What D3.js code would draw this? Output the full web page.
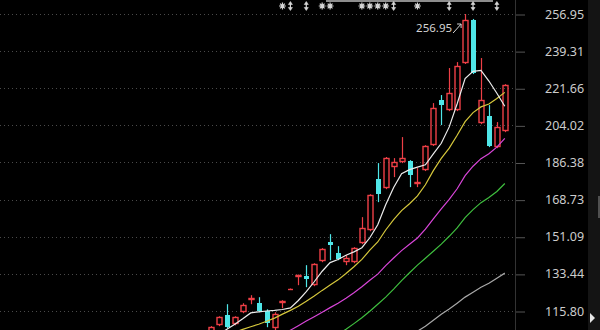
<!DOCTYPE html>
<html><head><meta charset="utf-8">
<script src="https://cdn.jsdelivr.net/npm/d3@7"></script>
<style>html,body{margin:0;padding:0;background:#000;overflow:hidden}</style>
</head><body><svg id="c" width="600" height="330"></svg>
<script>
// ---- data ----
const days = [1,2,3,4,5,6,7,8,9,10,11,12,13,14,15,16,17,18,19,20,21,22,23,24,25,26,27,28,29,30,31,32,33,34,35,36,37,38];
const open  = [104.76,109.04,113.80,109.52,115.22,120.93,119.51,115.70,107.62,119.75,126.0,131.9,132.35,128.07,139.48,148.51,143.28,139.00,139.00,148.04,154.22,178.48,174.20,184.19,186.56,187.04,176.10,182.76,194.65,216.05,211.29,211.29,233.65,254.10,205.11,208.44,193.70,201.30];
const high  = [108.6,113.3,119.03,113.3,119.5,123.31,122.36,116.6,115.22,120.93,126.5,133.1,137.58,138.5,145.7,152.32,146.61,142.33,146.14,160.41,171.3,186.09,189.0,188.46,198.45,187.5,183.71,194.6,214.62,218.43,231.27,234.1,256.95,254.6,236.02,213.67,205.59,223.6];
const low   = [103.8,108.6,107.62,109.0,114.75,119.03,115.22,108.09,106.67,117.13,125.9,128.07,127.12,127.6,139.0,139.95,139.95,137.58,138.5,147.6,153.7,167.54,173.7,179.43,186.09,174.67,174.67,182.3,194.2,204.16,210.8,210.8,233.2,228.4,204.6,193.7,193.2,200.8];
const close = [108.09,112.85,108.09,112.85,118.56,121.89,115.70,109.99,114.27,120.46,126.3,132.82,130.92,138.05,145.19,147.09,140.43,140.90,145.66,155.18,170.87,171.34,188.46,186.56,188.46,180.38,177.05,194.17,212.24,213.67,219.38,232.22,254.10,228.89,216.05,194.17,203.21,223.18];
const ma5  = [null,104.8,107.1,109.5,112.1,114.9,115.4,115.8,116.1,116.5,117.3,120.8,125.0,129.7,134.7,138.8,140.3,142.3,143.9,145.9,150.6,156.8,166.3,174.5,181.1,183.0,184.2,185.3,190.5,195.5,203.3,214.3,226.3,229.7,230.1,225.1,219.3,213.1];
const ma10 = [null,null,null,105.7,107.1,108.3,109.5,110.9,112.4,114.3,116.1,118.1,120.4,122.9,125.6,128.1,130.6,133.6,136.8,140.3,144.7,148.6,154.3,159.2,163.5,166.8,170.5,175.8,182.5,188.3,193.2,199.3,205.8,210.1,212.8,214.2,216.8,219.7];
const ma20 = [null,null,null,null,null,null,null,null,null,104.5,106.7,108.8,111.0,113.1,115.2,117.4,119.5,121.9,124.5,127.3,130.4,133.3,137.4,141.0,144.5,147.5,150.5,154.7,159.6,164.3,168.9,173.9,180.1,184.6,188.2,190.5,193.7,197.8];
const ma30 = [null,null,null,null,null,null,null,null,null,null,null,null,null,null,null,null,104.8,107.1,109.8,112.6,115.7,119.0,122.4,126.2,130.2,134.0,137.6,140.9,144.2,147.6,151.3,155.3,160.2,164.0,167.3,169.7,172.6,176.4];
const ma60 = [null,null,null,null,null,null,null,null,null,null,null,null,null,null,null,null,null,null,null,null,null,null,null,null,null,103.8,106.2,108.6,111.4,114.3,116.7,119.5,122.4,124.7,127.1,129.0,131.4,133.8];
const tickValues = [256.95,239.31,221.66,204.02,186.38,168.73,151.09,133.44,115.80];
const starDays  = [10,15,16,20,21,22,23,27];
const arrowDays = [11,13,24,31,34,37];

// ---- drawing ----
const W = 600, H = 330, plotRight = 515;
const svg = d3.select('#c');
svg.append('rect').attr('width', W).attr('height', H).attr('fill', '#000');

const x = d3.scalePoint().domain(days).range([211, 504.8]);
const y = d3.scaleLinear().domain([115.80, 256.95]).range([311, 14]);

const UP = '#ee3f46', DOWN = '#4fe6e8';
const px = v => Math.round(v) + 0.5;

// grid
svg.append('g').selectAll('line').data(tickValues).join('line')
  .attr('x1', 0).attr('x2', plotRight)
  .attr('y1', d => px(y(d))).attr('y2', d => px(y(d)))
  .attr('stroke', '#4a4a4a').attr('stroke-width', 1).attr('stroke-dasharray', '1,3');

// scrollbar strip
svg.append('rect').attr('x', 588).attr('y', 0).attr('width', 12).attr('height', H).attr('fill', '#141414');
svg.append('rect').attr('x', 598).attr('y', 196).attr('width', 2).attr('height', 22).attr('fill', '#505050');
svg.append('path').attr('d', 'M590,313 L595,318 L590,323 Z').attr('fill', '#e6e6e6');

// axis
const axis = d3.axisRight(y).tickValues(tickValues).tickSize(10).tickPadding(20).tickFormat(d3.format('.2f'));
const ag = svg.append('g').attr('transform', `translate(${plotRight},0)`).call(axis);
ag.select('.domain').remove();
ag.selectAll('.tick line').attr('stroke', '#555').attr('transform', 'translate(0,0.5)');
ag.selectAll('.tick text').attr('fill', '#cccccc').attr('font-size', '12.5px')
  .attr('font-family', '"Noto Sans", "DejaVu Sans", sans-serif');
svg.append('line').attr('x1', plotRight + 0.5).attr('x2', plotRight + 0.5).attr('y1', 0).attr('y2', H)
  .attr('stroke', '#333').attr('stroke-width', 1);

svg.append('clipPath').attr('id', 'pc').append('rect')
  .attr('x', 0).attr('y', 0).attr('width', plotRight).attr('height', H);
const plot = svg.append('g').attr('clip-path', 'url(#pc)');

// candles
const cg = plot.append('g');
days.forEach((day, i) => {
  const cx = Math.round(x(day));
  const up = close[i] >= open[i];
  const col = up ? UP : DOWN;
  const top = y(Math.max(open[i], close[i])), bot = y(Math.min(open[i], close[i]));
  const yh = y(high[i]), yl = y(low[i]);
  const t = Math.round(top), b = Math.max(Math.round(bot), t + 1);
  if (up) {
    cg.append('line').attr('x1', cx + 0.5).attr('x2', cx + 0.5).attr('y1', yh).attr('y2', t)
      .attr('stroke', col).attr('stroke-width', 1.2);
    cg.append('line').attr('x1', cx + 0.5).attr('x2', cx + 0.5).attr('y1', b).attr('y2', yl)
      .attr('stroke', col).attr('stroke-width', 1.2);
    if (b - t <= 1) {
      cg.append('line').attr('x1', cx - 2).attr('x2', cx + 3).attr('y1', t + 0.5).attr('y2', t + 0.5)
        .attr('stroke', col).attr('stroke-width', 1.4);
    } else {
      cg.append('rect').attr('x', cx - 2).attr('y', t + 0.5).attr('width', 5).attr('height', b - t - 1)
        .attr('fill', 'none').attr('stroke', col).attr('stroke-width', 1.4);
    }
  } else {
    cg.append('line').attr('x1', cx + 0.5).attr('x2', cx + 0.5).attr('y1', yh).attr('y2', yl)
      .attr('stroke', col).attr('stroke-width', 1.2);
    cg.append('rect').attr('x', cx - 2).attr('y', t).attr('width', 5).attr('height', Math.max(b - t, 1))
      .attr('fill', col);
  }
});

// moving averages
const mas = [
  {v: ma60, c: '#a8a8a8'},
  {v: ma30, c: '#3fbf3f'},
  {v: ma20, c: '#d845d8'},
  {v: ma10, c: '#d6c83c'},
  {v: ma5,  c: '#ececec'}
];
const line = d3.line().defined(d => d.v != null).x(d => x(d.d)).y(d => y(d.v));
mas.forEach(m => {
  plot.append('path').datum(days.map((d, i) => ({d, v: m.v[i]})))
    .attr('d', line).attr('fill', 'none').attr('stroke', m.c).attr('stroke-width', 1.2);
});

// peak label
const pk = d3.maxIndex(high);
const pxk = x(days[pk]), pyk = y(high[pk]);
svg.append('text').attr('x', pxk - 13).attr('y', pyk + 18).attr('text-anchor', 'end')
  .attr('fill', '#d4d4d4').attr('font-size', '11.5px')
  .attr('font-family', '"Noto Sans", "DejaVu Sans", sans-serif').text(d3.format('.2f')(high[pk]));
svg.append('path').attr('d', `M${pxk-12},${pyk+19} L${pxk-4},${pyk+10}`).attr('stroke', '#d4d4d4').attr('fill', 'none');
svg.append('path').attr('d', `M${pxk-8},${pyk+10} L${pxk-4},${pyk+10} L${pxk-4},${pyk+14}`).attr('stroke', '#d4d4d4').attr('fill', 'none');

// top bar and markers
svg.append('line').attr('x1', 326).attr('x2', 493).attr('y1', 1).attr('y2', 1).attr('stroke', '#bdbdbd').attr('stroke-width', 1.5);
const mg = svg.append('g').attr('stroke', '#d6d6d6').attr('fill', '#d6d6d6');
starDays.forEach(d => {
  const cx = x(d), cy = 6;
  const r = 3.4, rd = 2.4;
  mg.append('path').attr('d',
    `M${cx-r},${cy} L${cx+r},${cy} M${cx},${cy-r} L${cx},${cy+r} M${cx-rd},${cy-rd} L${cx+rd},${cy+rd} M${cx-rd},${cy+rd} L${cx+rd},${cy-rd}`)
    .attr('stroke-width', 1.2);
  mg.append('circle').attr('cx', cx).attr('cy', cy).attr('r', 1.8).attr('stroke', 'none');
});
arrowDays.forEach(d => {
  const cx = x(d), cy = 6;
  mg.append('path').attr('d', `M${cx},${cy-4.5} L${cx+2},${cy-1.5} L${cx-2},${cy-1.5} Z M${cx},${cy+4.5} L${cx+2},${cy+1.5} L${cx-2},${cy+1.5} Z`)
    .attr('stroke-width', 0.6);
  mg.append('line').attr('x1', cx).attr('x2', cx).attr('y1', cy - 2).attr('y2', cy + 2).attr('stroke-width', 1.2);
});
</script></body></html>
